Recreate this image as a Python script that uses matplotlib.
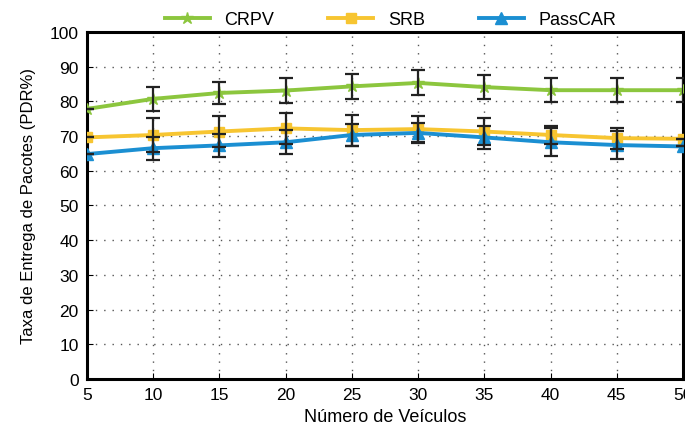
import numpy as np
import matplotlib.pyplot as plt

plt.rcParams['font.family'] = ['Liberation Sans', 'DejaVu Sans']

veiculos = [5, 10, 15, 20, 25, 30, 35, 40, 45, 50]
crpv = [77.8, 80.7, 82.4, 83.1, 84.3, 85.3, 84.1, 83.2, 83.2, 83.2]
crpv_err = [0, 3.4, 3.3, 3.5, 3.5, 3.6, 3.5, 3.5, 3.5, 3.5]
srb = [69.6, 70.3, 71.3, 72.2, 71.7, 72.0, 71.3, 70.3, 69.4, 69.2]
srb_err = [0, 4.8, 4.5, 4.5, 4.5, 3.8, 4.0, 2.5, 3.0, 0]
passcar = [64.8, 66.5, 67.3, 68.2, 70.3, 70.9, 69.6, 68.2, 67.4, 67.0]
passcar_err = [0, 3.3, 3.3, 3.5, 3.3, 2.9, 3.3, 4.0, 4.0, 0]

c_crpv = '#8cc63e'
c_srb = '#f7c531'
c_pass = '#1b8fd2'

fig = plt.figure(figsize=(6.85, 4.27), dpi=100)
ax = fig.add_axes([0.127, 0.110, 0.870, 0.813])

ax.plot(veiculos, crpv, color=c_crpv, lw=2.8, marker='*', ms=9, label='CRPV', zorder=3)
ax.plot(veiculos, srb, color=c_srb, lw=2.8, marker='s', ms=7, label='SRB', zorder=3)
ax.plot(veiculos, passcar, color=c_pass, lw=2.8, marker='^', ms=8, label='PassCAR', zorder=3)

# barras de erro pretas por cima das linhas
for y, e in [(crpv, crpv_err), (srb, srb_err), (passcar, passcar_err)]:
    ax.errorbar(veiculos, y, yerr=e, fmt='none', ecolor='#222222', elinewidth=1.6,
                capsize=5, capthick=1.6, zorder=4)

ax.set_xlim(5, 50)
ax.set_ylim(0, 100)
ax.set_xticks(veiculos)
ax.set_yticks(range(0, 101, 10))
ax.grid(True, linestyle=(0, (1, 5)), color='#555555', lw=1)
ax.tick_params(direction='in', labelsize=12.5, length=4, pad=6)
for s in ax.spines.values():
    s.set_linewidth(2.2)

ax.set_xlabel('Número de Veículos', fontsize=13, labelpad=4)
ax.set_ylabel('Taxa de Entrega de Pacotes (PDR%)', fontsize=12, labelpad=10)

fig.legend(loc='upper center', bbox_to_anchor=(0.57, 1.01), ncol=3, frameon=False,
           fontsize=13, handlelength=2.5, columnspacing=3)

fig.savefig('out.png')
